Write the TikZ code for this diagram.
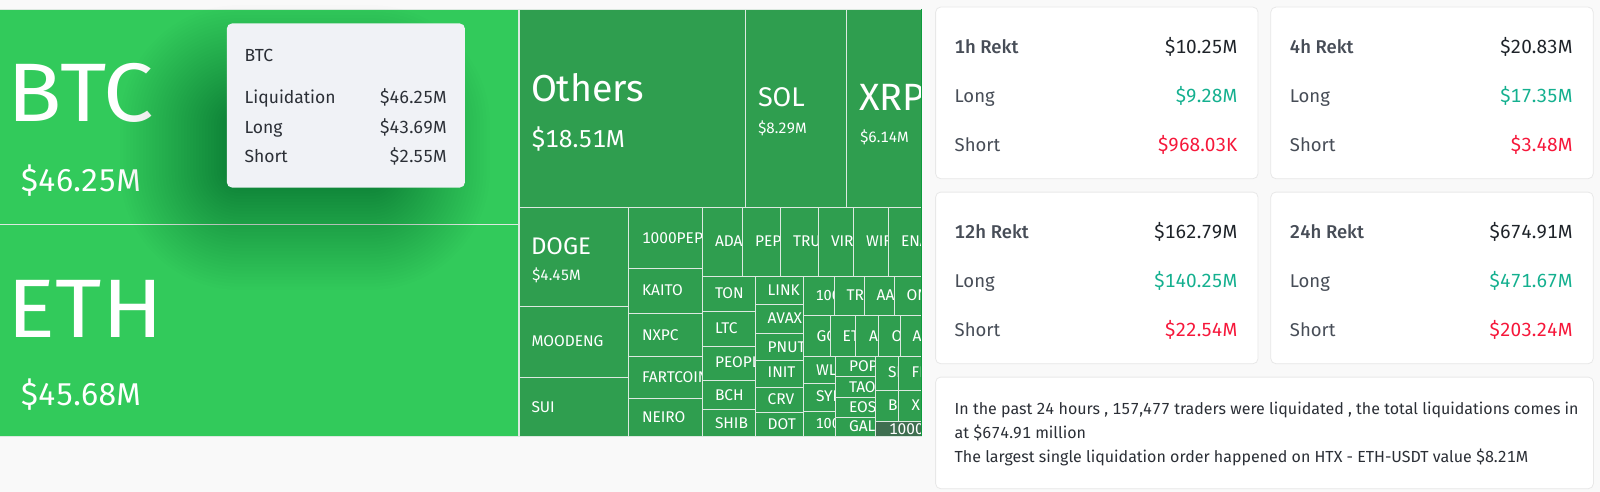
\documentclass[tikz,border=0pt]{standalone}
\usepackage{fontspec}
\setmainfont[Numbers={Monospaced,Lining}]{Fira Sans}
\newfontfamily\medfont[Numbers={Monospaced,Lining}]{Fira Sans Medium}
\newfontfamily\widefont[FakeStretch=1.08]{Fira Sans}
\definecolor{bgc}{HTML}{F9F9F9}
\definecolor{bigc}{HTML}{32CA5B}
\definecolor{cellc}{HTML}{2F9E4F}
\definecolor{darkc}{HTML}{3F6F50}
\definecolor{linec}{HTML}{DCE9E0}
\definecolor{edgec}{HTML}{0C9C3C}
\definecolor{tipc}{HTML}{F0F2F6}
\definecolor{inkc}{HTML}{2B2F36}
\definecolor{labelc}{HTML}{474D57}
\definecolor{valc}{HTML}{1E2329}
\definecolor{upc}{HTML}{14B08F}
\definecolor{downc}{HTML}{F6173A}
\definecolor{cardline}{HTML}{E8E8E8}
\newcommand{\fs}[1]{\fontsize{#1}{#1}\selectfont}
\tikzset{
  txt/.style={anchor=base west,inner sep=0pt,outer sep=0pt},
  txtr/.style={anchor=base east,inner sep=0pt,outer sep=0pt},
  wt/.style={txt,text=white},
  cellbox/.style={fill=cellc,draw=linec,line width=0.9pt},
  bigbox/.style={fill=bigc,draw=linec,line width=0.8pt},
  card/.style={anchor=north west,inner sep=0pt,fill=white,draw=cardline,line width=0.8pt,rounded corners=5pt},
  tip/.style={anchor=north west,inner sep=0pt,fill=tipc,rounded corners=5pt},
}
\begin{document}
\begin{tikzpicture}[x=1pt,y=-1pt]
\useasboundingbox (0,0) rectangle (1600,492);
\fill[bgc] (0,0) rectangle (1600,492);
% big cells
\path[bigbox] (-2,9) rectangle (518.8,224.5);
\path[bigbox] (-2,224.5) rectangle (518.8,436);
\node[wt,font=\widefont\fs{83}] (btc) at (8,122) {BTC};
\node[wt,font=\fs{31.5}] (btcv) at (20.5,191) {\$46.25M};
\node[wt,font=\widefont\fs{83}] (eth) at (8,337) {ETH};
\node[wt,font=\fs{31.5}] (ethv) at (20.5,405) {\$45.68M};
% treemap
\foreach \n/\a/\b/\c/\d/\tx/\ty/\s/\t in {
 others/519/9/745/207/531/102/37.5/Others,
 sol/745/9/846.3/207/758/107/27/SOL,
 xrp/846.3/9/921/207/859/111/38/XRP,
 doge/519/207/628.5/306/531/254/24/DOGE,
 moodeng/519/306/628.5/377.7/531.5/346.7/15.5/MOODENG,
 sui/519/377.7/628.5/436/531.5/412.7/15.5/SUI,
 pepek/628.5/207/702/268/642/243/15.5/1000PEPE,
 kaito/628.5/268/702/313/642/295/15.5/KAITO,
 nxpc/628.5/313/702/356.7/642/340/15.5/NXPC,
 fart/628.5/356.7/702/398.7/642/382.7/15.5/FARTCOIN,
 neiro/628.5/398.7/702/436/642/422.7/15.5/NEIRO,
 ada/702/207/742/276/715/246.7/15.5/ADA,
 pepe/742/207/780.3/276/755/246.7/15.5/PEPE,
 tru/780.3/207/818/276/793/246.7/15.5/TRU,
 vir/818/207/853.7/276/831/246.7/15.5/VIR,
 wif/853.7/207/888/276/866/246.7/15.5/WIF,
 ena/888/207/921/276/901/246.7/15.5/ENA,
 ton/702/276/755/311.7/715/298/15.5/TON,
 ltc/702/311.7/755/346/715/333.3/15.5/LTC,
 people/702/346/755/380/715/367.7/15.5/PEOPLE,
 bch/702/380/755/409.3/715/400/15.5/BCH,
 shib/702/409.3/755/436/715/428.3/15.5/SHIB,
 link/755/276/803.7/304.7/767.7/295/15.5/LINK,
 avax/755/304.7/803.7/333.3/767.7/323.3/15.5/AVAX,
 pnut/755/333.3/803.7/360.3/767.7/352/15.5/PNUT,
 init/755/360.3/803.7/387/767.7/377.7/15.5/INIT,
 crv/755/387/803.7/412.3/767.7/404.7/15.5/CRV,
 dot/755/412.3/803.7/436/767.7/429.7/15.5/DOT,
 ra/803.7/276/834/315.5/815.5/300.7/14.5/100,
 rb/834/276/864.3/315.5/846.7/300.7/15.5/TRX,
 rc/864.3/276/894/315.5/876.7/300.7/15.5/AAV,
 rd/894/276/921/315.5/906.7/300.7/15.5/ON,
 sa/803.7/315.5/830.3/356.3/816.7/341/15.5/GO,
 sb/830.3/315.5/855.7/356.3/842.7/341/15.5/ETC,
 sc/855.7/315.5/878.3/356.3/869/341/15.5/AP,
 sd/878.3/315.5/900.3/356.3/891.7/341/15.5/OP,
 se/900.3/315.5/921/356.3/912.7/341/15.5/AR,
 wl/803.7/356.3/835.7/383.3/816/375/15.5/WL,
 syi/803.7/383.3/835.7/411/816/401.7/15.5/SYI,
 ua/803.7/411/835.7/436/815.5/428.3/14.5/100,
 pop/835.7/356.3/875.7/376.7/849/371.7/15.5/POP,
 tao/835.7/376.7/875.7/397.3/849/392/15.5/TAO,
 eos/835.7/397.3/875.7/417.3/849/412/15.5/EOS,
 gal/835.7/417.3/875.7/436/849/431.7/15.5/GAL,
 s/875.7/356.3/898.7/390/888/377.7/15.5/SE,
 fi/898.7/356.3/921/390/911.7/377.7/15.5/FI,
 b/875.7/390/898.7/421.7/888/410.7/15.5/BN,
 x/898.7/390/921/421.7/911.7/410.7/15.5/XL%
}{
  \path[cellbox] (\a,\b) rectangle (\c,\d);
  \begin{scope}
    \clip (\a+0.5,\b) rectangle (\c-0.5,\d);
    \node[wt,font=\fs{\s}] (\n) at (\tx,\ty) {\t};
  \end{scope}
}
\path[fill=darkc,draw=linec,line width=0.9pt] (875.7,421.7) rectangle (921,436);
\begin{scope}
  \clip (876,422) rectangle (921,436);
  \node[wt,font=\fs{15.5}] (small) at (889,434) {1000F};
\end{scope}
\draw[edgec,line width=1pt] (921,9) -- (921,436);
\node[wt,font=\fs{24.5}] (othersv) at (531.5,147) {\$18.51M};
\node[wt,font=\fs{15}] (solv) at (758,134) {\$8.29M};
\node[wt,font=\fs{15}] (xrpv) at (860,142.7) {\$6.14M};
\node[wt,font=\fs{15}] (dogev) at (532,280.7) {\$4.45M};
% tooltip shadow
\begin{scope}
  \clip (0,0) rectangle (518,300);
  \foreach \i in {1,...,40}{
    \pgfmathsetmacro\r{120*(\i/40)^1.1}
    \fill[black,opacity=0.0065,rounded corners=\r pt] (240-\r,125-\r) rectangle (370+\r,170+\r);
  }
\end{scope}
\node[tip,minimum width=238pt,minimum height=164pt] (tipbox) at (226.7,23.3) {};
\node[txt,text=inkc,font=\fs{17.5}] (tiph) at (244.7,61.7) {BTC};
\node[txt,text=inkc,font=\fs{17.5}] (tipa) at (244.7,104) {Liquidation};
\node[txtr,text=inkc,font=\fs{17.5}] (tipav) at (446.7,104) {\$46.25M};
\node[txt,text=inkc,font=\fs{17.5}] (tipb) at (244.7,133.3) {Long};
\node[txtr,text=inkc,font=\fs{17.5}] (tipbv) at (446.7,133.3) {\$43.69M};
\node[txt,text=inkc,font=\fs{17.5}] (tipc) at (244.7,162.3) {Short};
\node[txtr,text=inkc,font=\fs{17.5}] (tipcv) at (446.7,162.3) {\$2.55M};
% cards
\foreach \n/\x/\y/\h/\va/\vb/\vc in {
  a/935.2/6.7/1h Rekt/\$10.25M/\$9.28M/\$968.03K,
  b/1270.4/6.7/4h Rekt/\$20.83M/\$17.35M/\$3.48M,
  c/935.2/191.7/12h Rekt/\$162.79M/\$140.25M/\$22.54M,
  d/1270.4/191.7/24h Rekt/\$674.91M/\$471.67M/\$203.24M%
}{
  \node[card,minimum width=322.4pt,minimum height=171.6pt] (card\n) at (\x,\y) {};
  \node[txt,text=labelc,font=\fs{18.5}\medfont] (h\n) at (\x+19.5,\y+46.6) {\h};
  \node[txtr,text=valc,font=\fs{19}] (v\n) at (\x+302.2,\y+46.6) {\va};
  \node[txt,text=labelc,font=\fs{18.5}] (l\n) at (\x+19.5,\y+96) {Long};
  \node[txtr,text=upc,font=\fs{19}] (lv\n) at (\x+302.2,\y+96) {\vb};
  \node[txt,text=labelc,font=\fs{18.5}] (s\n) at (\x+19.5,\y+145) {Short};
  \node[txtr,text=downc,font=\fs{19}] (sv\n) at (\x+302.2,\y+145) {\vc};
}
\node[card,minimum width=657.8pt,minimum height=111.6pt] (note) at (935.2,376.7) {};
\node[txt,text=inkc,font=\fs{16}] (na) at (954.7,414) {In the past 24 hours , 157,477 traders were liquidated , the total liquidations comes in};
\node[txt,text=inkc,font=\fs{16}] (nb) at (954.7,438.7) {at \$674.91 million};
\node[txt,text=inkc,font=\fs{16}] (nc) at (954.7,462.7) {The largest single liquidation order happened on HTX - ETH-USDT value \$8.21M};
\end{tikzpicture}
\end{document}
